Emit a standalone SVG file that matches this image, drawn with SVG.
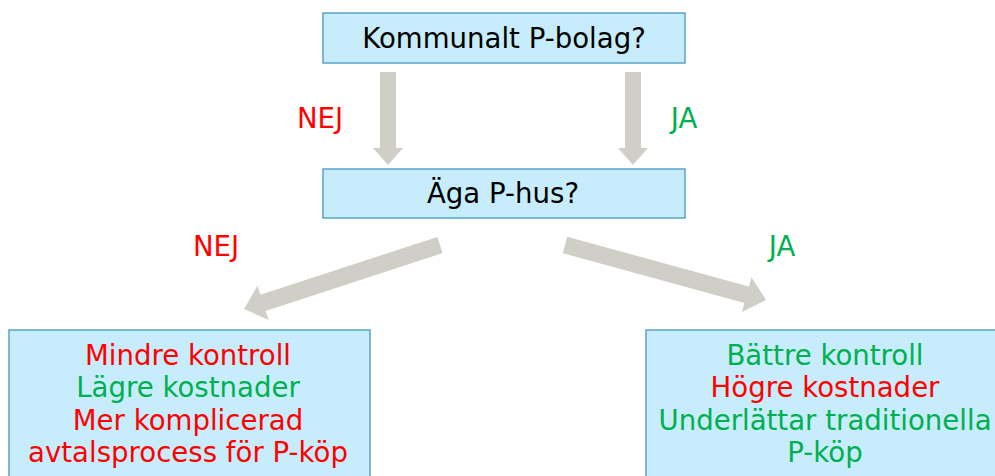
<svg xmlns="http://www.w3.org/2000/svg" width="995" height="476" viewBox="0 0 995 476">
<style>
.box{fill:#C7EDFC;stroke:#5AA3C8;stroke-width:1.5}
.t{font-family:"DejaVu Sans","Verdana",sans-serif;font-size:27.6px;text-anchor:middle}
.k{fill:#000}
.r{fill:#FF0000}
.g{fill:#00B050}
.arr{fill:#D0CFC7}
</style>
<rect width="995" height="476" fill="#fff"/>
<g id="connectors">
<polygon class="arr" points="380,72 396,72 396,148 403,148 388,165 373,148 380,148"/>
<polygon class="arr" points="625,72 641,72 641,148 648,148 633,165 618,148 625,148"/>
<polygon class="arr" points="437.4,236.9 260.4,294.7 257.4,285.7 244,309 268.6,319.9 265.6,310.9 442.6,253.1"/>
<polygon class="arr" points="567.2,236.8 748.9,286.5 751.5,277.3 766,300 741.9,312.1 744.5,302.9 562.8,253.2"/>
<text class="t r" x="320" y="128">NEJ</text>
<text class="t g" x="684" y="128">JA</text>
<text class="t r" x="216" y="256">NEJ</text>
<text class="t g" x="782" y="256">JA</text>
</g>
<g id="n1">
<rect class="box" x="323" y="13" width="362" height="50"/>
<text class="t k" x="504" y="48">Kommunalt P-bolag?</text>
</g>
<g id="n2">
<rect class="box" x="323" y="169" width="362" height="49"/>
<text class="t k" x="503" y="203">Äga P-hus?</text>
</g>
<g id="n3">
<rect class="box" x="9" y="330" width="361" height="160"/>
<text class="t r" x="188" y="365">Mindre kontroll</text>
<text class="t g" x="188" y="397">Lägre kostnader</text>
<text class="t r" x="188" y="430">Mer komplicerad</text>
<text class="t r" x="188" y="462">avtalsprocess för P-köp</text>
</g>
<g id="n4">
<rect class="box" x="646" y="330" width="360" height="160"/>
<text class="t g" x="825" y="365">Bättre kontroll</text>
<text class="t r" x="825" y="397">Högre kostnader</text>
<text class="t g" x="825" y="430">Underlättar traditionella</text>
<text class="t g" x="825" y="462">P-köp</text>
</g>
</svg>
